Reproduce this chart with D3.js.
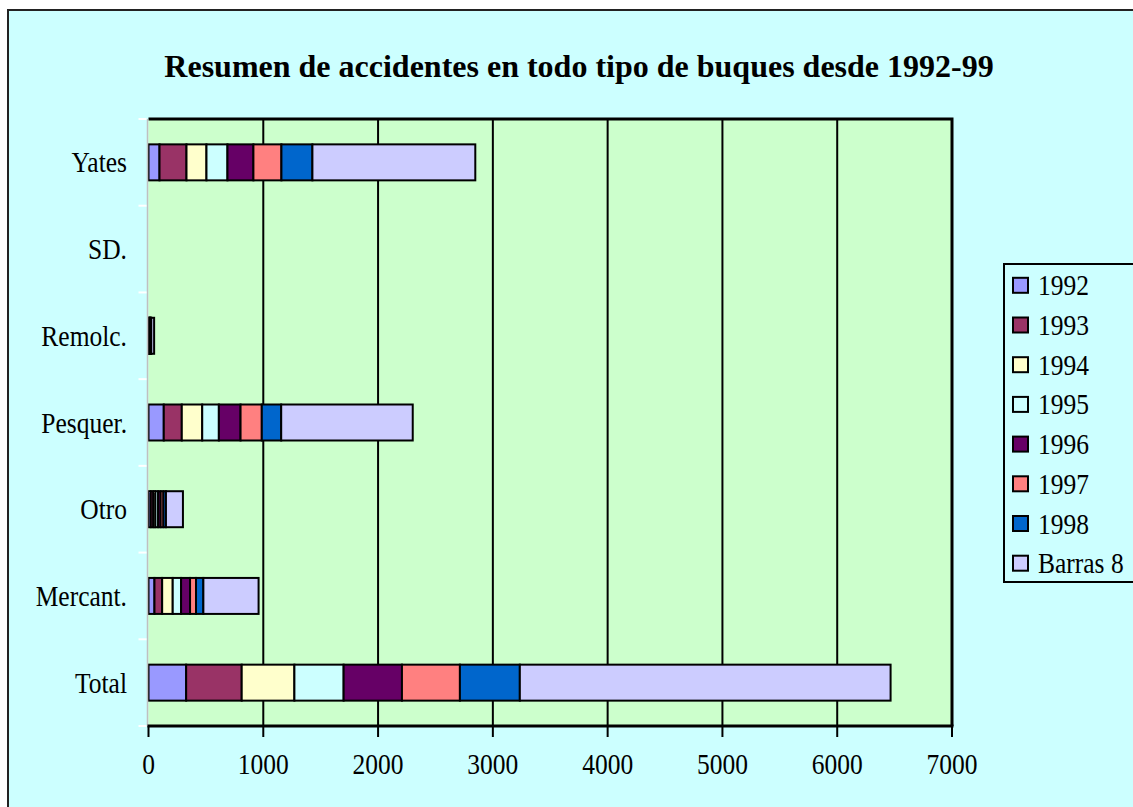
<!DOCTYPE html>
<html>
<head>
<meta charset="utf-8">
<script src="https://cdn.jsdelivr.net/npm/d3@7"></script>
<style>
  body { margin: 0; background: #fff; }
</style>
</head>
<body>
<div id="chart"></div>
<script>
// categories, top to bottom
const categories = ["Yates", "SD.", "Remolc.", "Pesquer.", "Otro", "Mercant.", "Total"];
const series = ["1992", "1993", "1994", "1995", "1996", "1997", "1998", "Barras 8"];
const colors = ["#9999FF", "#993366", "#FFFFCC", "#CCFFFF", "#660066", "#FF8080", "#0066CC", "#CCCCFF"];

// values per series, in the order of categories
const v1992 = [96, 0, 4, 133, 20, 52, 328];
const v1993 = [235, 0, 3, 157, 22, 67, 484];
const v1994 = [174, 0, 3, 178, 18, 92, 459];
const v1995 = [183, 0, 4, 145, 24, 73, 429];
const v1996 = [226, 0, 3, 189, 22, 78, 508];
const v1997 = [244, 0, 4, 185, 24, 52, 505];
const v1998 = [270, 0, 3, 169, 22, 64, 522];
const vBarras = [1419, 0, 25, 1146, 148, 481, 3230];
const xTicks = [0, 1000, 2000, 3000, 4000, 5000, 6000, 7000];

const values = [v1992, v1993, v1994, v1995, v1996, v1997, v1998, vBarras];
const rows = categories.map((c, i) => {
  const r = { cat: c };
  series.forEach((s, j) => r[s] = values[j][i]);
  return r;
});

const width = 1133, height = 807;
const plot = { left: 148.5, right: 952, top: 119, bottom: 726 };
const sy = 1.12; // glyphs in the picture are a bit taller than wide

const svg = d3.select("#chart").append("svg")
  .attr("width", width).attr("height", height)
  .attr("font-family", "'Liberation Serif', 'Times New Roman', Times, serif");

// outer frame
svg.append("rect")
  .attr("x", 8).attr("y", 10).attr("width", width + 20).attr("height", height + 20)
  .attr("fill", "#CCFFFF").attr("stroke", "#222").attr("stroke-width", 2);

const x = d3.scaleLinear().domain([0, 7000]).range([plot.left, plot.right]);
const y = d3.scaleBand().domain(categories).range([plot.top, plot.bottom])
  .paddingInner(0.585).paddingOuter(0.2925);

// plot background
svg.append("rect")
  .attr("x", plot.left).attr("y", plot.top)
  .attr("width", plot.right - plot.left).attr("height", plot.bottom - plot.top)
  .attr("fill", "#CCFFCC");

// gridlines
svg.append("g").selectAll("line")
  .data(xTicks.slice(1, -1))
  .join("line")
    .attr("x1", d => x(d)).attr("x2", d => x(d))
    .attr("y1", plot.top).attr("y2", plot.bottom)
    .attr("stroke", "#000").attr("stroke-width", 2);

// top and right border
svg.append("path")
  .attr("d", `M${plot.left},${plot.top}H${plot.right}V${plot.bottom}`)
  .attr("fill", "none").attr("stroke", "#000").attr("stroke-width", 3);

// stacked bars
const stack = d3.stack().keys(series)(rows);
svg.append("g").selectAll("g")
  .data(stack)
  .join("g")
    .attr("fill", (d, i) => colors[i])
  .selectAll("rect")
  .data(d => d.filter(p => p[1] > p[0]))
  .join("rect")
    .attr("x", d => x(d[0]))
    .attr("y", d => y(d.data.cat))
    .attr("width", d => x(d[1]) - x(d[0]))
    .attr("height", y.bandwidth())
    .attr("stroke", "#000").attr("stroke-width", 2);

// left axis: pale line with white ticks at band edges
svg.append("line")
  .attr("x1", plot.left - 1).attr("x2", plot.left - 1)
  .attr("y1", plot.top).attr("y2", plot.bottom)
  .attr("stroke", "#c0c0c0").attr("stroke-width", 1.5);
const edges = d3.range(categories.length + 1).map(i => plot.top + i * y.step());
svg.append("g").selectAll("line")
  .data(edges)
  .join("line")
    .attr("x1", plot.left - 10).attr("x2", plot.left - 2)
    .attr("y1", d => d).attr("y2", d => d)
    .attr("stroke", "#fff").attr("stroke-width", 2);

// bottom axis
svg.append("line")
  .attr("x1", plot.left - 1).attr("x2", plot.right + 1.5)
  .attr("y1", plot.bottom).attr("y2", plot.bottom)
  .attr("stroke", "#000").attr("stroke-width", 3);
svg.append("g").selectAll("line")
  .data(xTicks)
  .join("line")
    .attr("x1", d => x(d)).attr("x2", d => x(d))
    .attr("y1", plot.bottom).attr("y2", plot.bottom + 11)
    .attr("stroke", "#000").attr("stroke-width", 2);

svg.append("g").selectAll("text")
  .data(xTicks)
  .join("text")
    .attr("transform", d => `translate(${x(d)},${plot.bottom + 48}) scale(1,${sy})`)
    .attr("text-anchor", "middle")
    .attr("font-size", 25.5)
    .text(d => d);

svg.append("g").selectAll("text")
  .data(categories)
  .join("text")
    .attr("transform", d => `translate(127,${y(d) + y.bandwidth() / 2}) scale(1,${sy})`)
    .attr("text-anchor", "end")
    .attr("dy", "0.35em")
    .attr("font-size", 25.5)
    .text(d => d);

// title
svg.append("text")
  .attr("x", 579).attr("y", 77)
  .attr("text-anchor", "middle")
  .attr("font-size", 32)
  .attr("font-weight", "bold")
  .text("Resumen de accidentes en todo tipo de buques desde 1992-99");

// legend
const lg = svg.append("g");
lg.append("rect")
  .attr("x", 1004).attr("y", 264).attr("width", 140).attr("height", 318)
  .attr("fill", "#CCFFFF").attr("stroke", "#000").attr("stroke-width", 2);
const item = lg.selectAll("g.item")
  .data(series)
  .join("g")
    .attr("class", "item")
    .attr("transform", (d, i) => `translate(1013,${285.3 + i * 39.7})`);
item.append("rect")
  .attr("x", 0).attr("y", -7.5).attr("width", 15).attr("height", 15)
  .attr("fill", (d, i) => colors[i]).attr("stroke", "#000").attr("stroke-width", 2);
item.append("text")
  .attr("transform", `translate(25,0) scale(1,${sy})`)
  .attr("dy", "0.35em")
  .attr("font-size", 25.5)
  .text(d => d);
</script>
</body>
</html>
